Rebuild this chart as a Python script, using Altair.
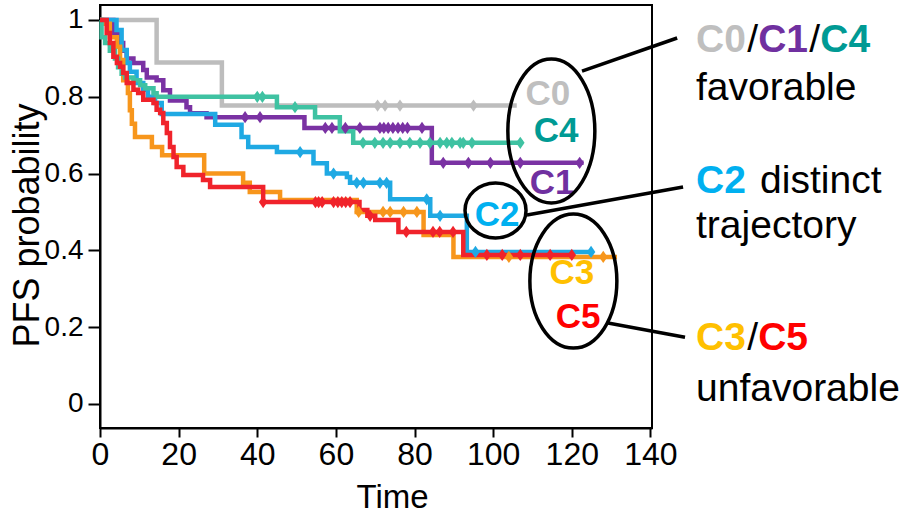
import altair as alt
import pandas as pd

# ---------------- data ----------------
groups = ["C0", "C1", "C2", "C3", "C4", "C5"]
line_colors = ["#bdbdbd", "#7a32a3", "#1fa9e3", "#f7961c", "#3fc2a2", "#f0232b"]

c0_time = [0, 14.4, 31, 106]
c0_surv = [1, 0.889, 0.777, 0.777]
c0_cens = [70.6, 72.5, 76.3, 95]

c1_time = [0, 3.4, 5.1, 5.9, 6.8, 8.5, 11, 11.9, 14.4, 16.1, 17.8, 22, 22.9, 27.1, 52, 84.4, 123]
c1_surv = [1, 0.966, 0.94, 0.92, 0.90, 0.888, 0.87, 0.85, 0.843, 0.817, 0.79, 0.773, 0.757, 0.747, 0.719, 0.628, 0.628]
c1_cens = [36.9, 40.7, 57.3, 59, 62.4, 66.1, 71.2, 72.2, 73.3, 74.5, 75.8, 77, 78.2, 81.9, 87.3, 93.7, 99.3, 106.9, 122]

c2_time = [0, 4.2, 5.5, 6.8, 7.6, 9.3, 11, 12.2, 14, 15.7, 29.3, 36, 37.7, 45, 54.3, 57.7, 62.8, 63.6, 73.8, 84, 93.3, 125]
c2_surv = [1, 0.974, 0.922, 0.888, 0.865, 0.836, 0.818, 0.80, 0.784, 0.755, 0.727, 0.695, 0.669, 0.656, 0.627, 0.60, 0.591, 0.576, 0.533, 0.49, 0.396, 0.396]
c2_cens = [50.9, 59.4, 65.3, 67, 71.2, 72.9, 83.1, 86.5, 95.5, 124.9]

c3_time = [0, 0.8, 2.5, 4.3, 5.1, 5.9, 7.1, 7.6, 8.1, 8.9, 13.2, 15.8, 26.5, 36.4, 38.1, 45.8, 65.3, 82.3, 89.9, 131.5]
c3_surv = [1, 0.99, 0.955, 0.93, 0.896, 0.843, 0.81, 0.765, 0.73, 0.695, 0.669, 0.648, 0.60, 0.576, 0.552, 0.531, 0.50, 0.44, 0.383, 0.383]
c3_cens = [65.8, 72, 73.8, 77.2, 80.6, 104, 128]

c4_time = [0, 0.4, 1.3, 2.5, 3.8, 4.6, 5.5, 6.4, 8.5, 10.2, 11.5, 13.6, 14.4, 45, 54.7, 61, 64.4, 107.6]
c4_surv = [1, 0.955, 0.94, 0.92, 0.90, 0.877, 0.86, 0.85, 0.843, 0.83, 0.822, 0.809, 0.80, 0.773, 0.747, 0.71, 0.68, 0.68]
c4_cens = [40, 41.3, 49.6, 66.9, 69.9, 72, 73.8, 76.3, 78.8, 81.4, 83.9, 86.5, 88.2, 89.5, 91.6, 92.4, 94.6, 106.9]

c5_time = [0, 1.7, 2.5, 3.4, 4.3, 5.1, 5.9, 6.8, 8.5, 9.7, 11, 13.6, 14.4, 15.3, 16.1, 17, 17.8, 18.7, 19.5, 21.2, 26.2, 28, 41.5, 66, 68, 70, 75.9, 92.4, 120.4]
c5_surv = [1, 0.966, 0.94, 0.904, 0.888, 0.878, 0.862, 0.836, 0.818, 0.81, 0.792, 0.784, 0.766, 0.758, 0.732, 0.706, 0.669, 0.643, 0.617, 0.596, 0.583, 0.565, 0.526, 0.505, 0.49, 0.479, 0.448, 0.388, 0.388]
c5_cens = [41.5, 54.8, 55.6, 56.5, 59.4, 60.5, 61.5, 62.5, 63.6, 68.7, 77.9, 84.7, 86.4, 89.8, 98.4, 102.3, 106.9, 114.5, 120]

x_ticks = [0, 20, 40, 60, 80, 100, 120, 140]
y_ticks = [0, 0.2, 0.4, 0.6, 0.8, 1]

# in-plot cluster labels
lab_text = ["C0", "C4", "C1", "C2", "C3", "C5"]
lab_t = [113.9, 116.0, 115.0, 101.0, 120.0, 121.6]
lab_s = [0.806, 0.710, 0.576, 0.493, 0.342, 0.227]
lab_color = ["#bfbfbf", "#009a94", "#7030a0", "#00b0f0", "#ffc000", "#ff0000"]

# right-hand annotation texts (left aligned, alphabetic baseline)
ann_text = ["C0", "/", "C1", "/", "C4", "favorable",
            "C2", "distinct", "trajectory",
            "C3", "/", "C5", "unfavorable"]
ann_t = [151.6, 164.6, 167.4, 180.4, 183.2, 151.6,
         151.6, 167.9, 151.6,
         151.6, 164.6, 167.4, 151.6]
ann_s = [0.917, 0.917, 0.917, 0.917, 0.917, 0.792,
         0.549, 0.549, 0.432,
         0.141, 0.141, 0.141, 0.008]
ann_color = ["#bfbfbf", "black", "#7030a0", "black", "#009a94", "black",
             "#00b0f0", "black", "black",
             "#ffc000", "black", "#ff0000", "black"]
ann_bold = [True, False, True, False, True, False,
            True, False, False,
            True, False, True, False]

# leader lines
lead_t = [122.6, 108.6, 129.2]
lead_s = [0.867, 0.492, 0.211]
lead_t2 = [146.8, 148.3, 148.8]
lead_s2 = [0.953, 0.565, 0.174]

# ellipses: centre (data units) and radii (px)
ell_t = [114.8, 100.6, 120.4]
ell_s = [0.711, 0.504, 0.320]
ell_rx = [43.5, 30.5, 43.5]
ell_ry = [72, 27.5, 67]

# ---------------- tables ----------------
series = {
    "C0": (c0_time, c0_surv, c0_cens),
    "C1": (c1_time, c1_surv, c1_cens),
    "C2": (c2_time, c2_surv, c2_cens),
    "C3": (c3_time, c3_surv, c3_cens),
    "C4": (c4_time, c4_surv, c4_cens),
    "C5": (c5_time, c5_surv, c5_cens),
}


def step_value(times, survs, x):
    v = survs[0]
    for tt, ss in zip(times, survs):
        if tt <= x:
            v = ss
    return v


curve_rows, cens_rows = [], []
for g in groups:
    ts, ss, cs = series[g]
    for i, (tt, sv) in enumerate(zip(ts, ss)):
        curve_rows.append({"group": g, "t": tt, "s": sv, "idx": i})
    for c in cs:
        cens_rows.append({"group": g, "t": c, "s": step_value(ts, ss, c)})
curve_df = pd.DataFrame(curve_rows)
cens_df = pd.DataFrame(cens_rows)

lab_df = pd.DataFrame({"text": lab_text, "t": lab_t, "s": lab_s, "color": lab_color})
ann_df = pd.DataFrame({"text": ann_text, "t": ann_t, "s": ann_s, "color": ann_color, "bold": ann_bold})
lead_df = pd.DataFrame({"t": lead_t, "s": lead_s, "t2": lead_t2, "s2": lead_s2})

# ---------------- encodings ----------------
xscale = alt.Scale(domain=[0, 140.4], nice=False, zero=False)
yscale = alt.Scale(domain=[-0.0625, 1.039], nice=False, zero=False)
color_scale = alt.Scale(domain=groups, range=line_colors)

x_axis = alt.Axis(values=x_ticks, title="Time", grid=False, tickSize=9, tickWidth=2,
                  tickColor="black", domainColor="black", domainWidth=2,
                  labelFontSize=32, labelColor="black", labelPadding=2,
                  labelFlush=False, labelOverlap=False,
                  titleFontSize=33, titleFontWeight="normal", titleColor="black",
                  titleX=292, titleY=79, titleBaseline="alphabetic")
y_axis = alt.Axis(values=y_ticks, format="~g", title="PFS probability", grid=False,
                  tickSize=12, tickWidth=2, tickColor="black", domainColor="black",
                  domainWidth=2, labelFontSize=28, labelColor="black", labelPadding=5,
                  labelOverlap=False,
                  titleFontSize=36, titleFontWeight="normal", titleColor="black",
                  titleAngle=270, titleX=-54, titleY=220, titleBaseline="bottom",
                  titleAlign="center")

X = alt.X("t:Q", scale=xscale, axis=x_axis)
Y = alt.Y("s:Q", scale=yscale, axis=y_axis)

lines = alt.Chart(curve_df).mark_line(interpolate="step-after", strokeWidth=4.5).encode(
    x=X, y=Y,
    color=alt.Color("group:N", scale=color_scale, legend=None),
    order="idx:Q",
)

cens = alt.Chart(cens_df).mark_point(
    shape="M0,-1L0.7,0L0,1L-0.7,0Z", filled=True, size=150, opacity=1
).encode(x=X, y=Y, color=alt.Color("group:N", scale=color_scale, legend=None))

labels = alt.Chart(lab_df).mark_text(
    fontSize=35, fontWeight="bold", align="center", baseline="middle"
).encode(x=X, y=Y, text="text:N", color=alt.Color("color:N", scale=None))

ann_bold_l = alt.Chart(ann_df[ann_df["bold"]]).mark_text(
    fontSize=39, fontWeight="bold", align="left", baseline="alphabetic"
).encode(x=X, y=Y, text="text:N", color=alt.Color("color:N", scale=None))
ann_reg_l = alt.Chart(ann_df[~ann_df["bold"]]).mark_text(
    fontSize=39, fontWeight="normal", align="left", baseline="alphabetic"
).encode(x=X, y=Y, text="text:N", color=alt.Color("color:N", scale=None))

leads = alt.Chart(lead_df).mark_rule(color="black", strokeWidth=3.5).encode(
    x=X, y=Y, x2="t2:Q", y2="s2:Q"
)


def ellipse_path(rx, ry):
    R = max(rx, ry)
    a, b = rx / R, ry / R
    k = 0.5523
    return (f"M{-a},0 C{-a},{-k*b} {-k*a},{-b} 0,{-b} "
            f"C{k*a},{-b} {a},{-k*b} {a},0 "
            f"C{a},{k*b} {k*a},{b} 0,{b} "
            f"C{-k*a},{b} {-a},{k*b} {-a},0 Z"), (2 * R) ** 2


ellipses = []
for et, es, rx, ry in zip(ell_t, ell_s, ell_rx, ell_ry):
    path, size = ellipse_path(rx, ry)
    ellipses.append(
        alt.Chart(pd.DataFrame({"t": [et], "s": [es]})).mark_point(
            shape=path, size=size, filled=False, stroke="black", strokeWidth=3.5, opacity=1
        ).encode(x=X, y=Y)
    )

chart = alt.layer(lines, cens, labels, *ellipses, leads, ann_bold_l, ann_reg_l).properties(
    width=552, height=423,
    autosize=alt.AutoSizeParams(type="none"),
    padding={"left": 100, "top": 5, "right": 271, "bottom": 87},
    background="white",
).configure(font="Liberation Sans").configure_view(stroke="black", strokeWidth=2)

chart.save("out.html", embed_options={"renderer": "svg", "actions": False})
